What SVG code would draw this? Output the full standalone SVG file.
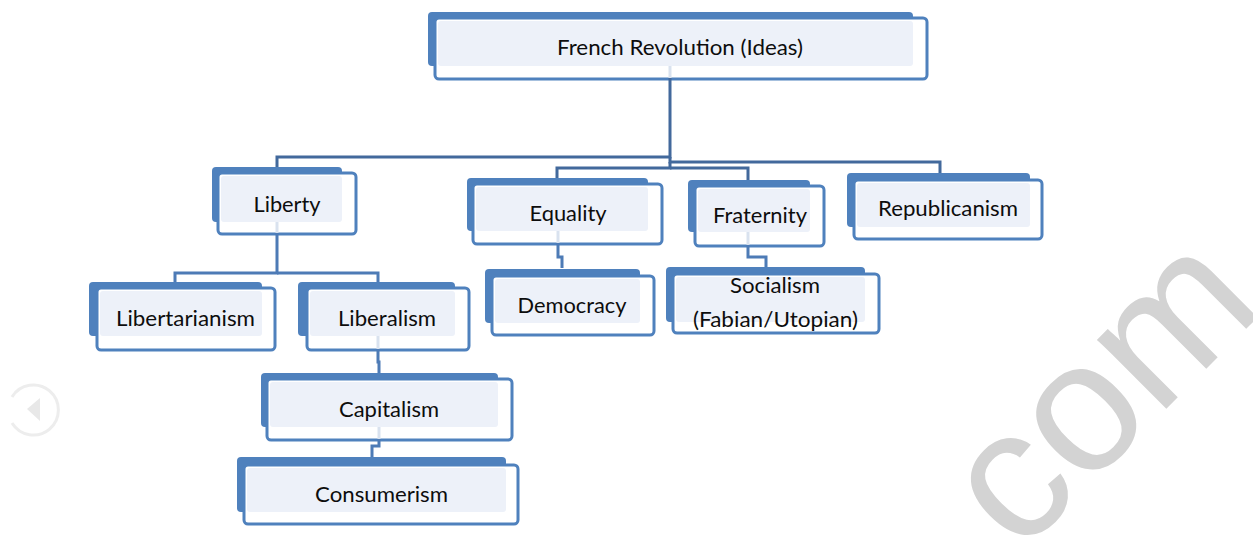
<svg xmlns="http://www.w3.org/2000/svg" width="1253" height="538" viewBox="0 0 1253 538">
<style>
.bk{fill:#4F81BD}
.fr{fill:#ffffff;stroke:#4F81BD;stroke-width:3}
.fl{fill:#EDF1F9}
.t{font-family:Lato,"Open Sans","Liberation Sans",sans-serif;font-size:22px;fill:#0d0d0d;text-anchor:middle}
.c1{fill:none;stroke:#42699C;stroke-width:3}
.c2{fill:none;stroke:#4D7BB6;stroke-width:3}
.st{fill:none;stroke:#D9E2EF;stroke-width:3}
.wm{font-family:"Liberation Sans",Arial,sans-serif;font-size:185px;fill:#D3D3D3}
</style>
<rect width="1253" height="538" fill="#ffffff"/>
<g id="watermark">
<text class="wm" transform="translate(1019,556) rotate(-45)">com</text>
</g>
<g id="nav-icon">
<path d="M12,397 A25,25 0 1 1 12,423" fill="none" stroke="#EDEDED" stroke-width="3"/>
<polygon points="27,409 40,398 40,421" fill="#E8E8E8"/>
</g>
<g id="root">
<rect class="bk" x="428" y="12" width="485" height="54" rx="4"/>
<rect class="fr" x="435" y="18" width="492" height="61" rx="4"/>
<rect class="fl" x="438" y="21" width="475" height="45" rx="3"/>
<text class="t" x="680" y="55" textLength="246" lengthAdjust="spacingAndGlyphs">French Revolution (Ideas)</text>
</g>
<g id="liberty">
<rect class="bk" x="212" y="167" width="130" height="55" rx="4"/>
<rect class="fr" x="218" y="173" width="138" height="61" rx="4"/>
<rect class="fl" x="221" y="176" width="121" height="46" rx="3"/>
<text class="t" x="287" y="212" textLength="67" lengthAdjust="spacingAndGlyphs">Liberty</text>
</g>
<g id="equality">
<rect class="bk" x="467" y="178" width="181" height="53" rx="4"/>
<rect class="fr" x="473" y="184" width="189" height="60" rx="4"/>
<rect class="fl" x="476" y="187" width="172" height="44" rx="3"/>
<text class="t" x="568" y="221" textLength="77" lengthAdjust="spacingAndGlyphs">Equality</text>
</g>
<g id="fraternity">
<rect class="bk" x="688" y="180" width="122" height="52" rx="4"/>
<rect class="fr" x="695" y="186" width="129" height="60" rx="4"/>
<rect class="fl" x="698" y="189" width="112" height="43" rx="3"/>
<text class="t" x="760" y="223" textLength="94" lengthAdjust="spacingAndGlyphs">Fraternity</text>
</g>
<g id="republicanism">
<rect class="bk" x="847" y="173" width="183" height="54" rx="4"/>
<rect class="fr" x="854" y="180" width="188" height="59" rx="4"/>
<rect class="fl" x="857" y="183" width="173" height="44" rx="3"/>
<text class="t" x="948" y="216" textLength="140" lengthAdjust="spacingAndGlyphs">Republicanism</text>
</g>
<g id="libertarianism">
<rect class="bk" x="89" y="282" width="173" height="54" rx="4"/>
<rect class="fr" x="97" y="288" width="178" height="62" rx="4"/>
<rect class="fl" x="100" y="291" width="162" height="45" rx="3"/>
<text class="t" x="185.5" y="326" textLength="139" lengthAdjust="spacingAndGlyphs">Libertarianism</text>
</g>
<g id="liberalism">
<rect class="bk" x="298" y="282" width="157" height="54" rx="4"/>
<rect class="fr" x="307" y="288" width="162" height="62" rx="4"/>
<rect class="fl" x="310" y="291" width="145" height="45" rx="3"/>
<text class="t" x="387" y="326" textLength="98" lengthAdjust="spacingAndGlyphs">Liberalism</text>
</g>
<g id="democracy">
<rect class="bk" x="485" y="269" width="155" height="54" rx="4"/>
<rect class="fr" x="492" y="276" width="162" height="59" rx="4"/>
<rect class="fl" x="495" y="279" width="145" height="44" rx="3"/>
<text class="t" x="572" y="313" textLength="109" lengthAdjust="spacingAndGlyphs">Democracy</text>
</g>
<g id="socialism">
<rect class="bk" x="666" y="267" width="199" height="55" rx="4"/>
<rect class="fr" x="673" y="274" width="206" height="59" rx="4"/>
<rect class="fl" x="676" y="277" width="189" height="45" rx="3"/>
<text class="t" x="775" y="293" textLength="90" lengthAdjust="spacingAndGlyphs">Socialism</text>
<text class="t" x="775.5" y="327" textLength="165" lengthAdjust="spacingAndGlyphs">(Fabian/Utopian)</text>
</g>
<g id="capitalism">
<rect class="bk" x="261" y="373" width="237" height="54" rx="4"/>
<rect class="fr" x="267" y="379" width="245" height="61" rx="4"/>
<rect class="fl" x="270" y="382" width="228" height="45" rx="3"/>
<text class="t" x="389" y="417" textLength="100" lengthAdjust="spacingAndGlyphs">Capitalism</text>
</g>
<g id="consumerism">
<rect class="bk" x="237" y="457" width="269" height="55" rx="4"/>
<rect class="fr" x="244" y="465" width="274" height="59" rx="4"/>
<rect class="fl" x="247" y="468" width="259" height="44" rx="3"/>
<text class="t" x="381.5" y="502" textLength="133" lengthAdjust="spacingAndGlyphs">Consumerism</text>
</g>
<g id="connectors">
<path class="st" d="M670,66 V78"/>
<path class="c1" d="M670,78 V157 H277 V167"/>
<path class="c1" d="M670,157 V162 H940 V173"/>
<path class="c1" d="M670,162 V168 H557 V178"/>
<path class="c1" d="M670,168 H748 V180"/>
<path class="st" d="M277,222 V233"/>
<path class="c2" d="M277,233 V273 H175 V282"/>
<path class="c2" d="M277,273 H378 V282"/>
<path class="st" d="M558,231 V243"/>
<path class="c2" d="M558,243 V257 H562 V268"/>
<path class="st" d="M748,232 V245"/>
<path class="c2" d="M748,245 V257 H766 V267"/>
<path class="st" d="M378,336 V349"/>
<path class="c2" d="M378,349 V362 H379 V373"/>
<path class="st" d="M379,427 V439"/>
<path class="c2" d="M379,439 V446 H372 V457"/>
</g>
</svg>
